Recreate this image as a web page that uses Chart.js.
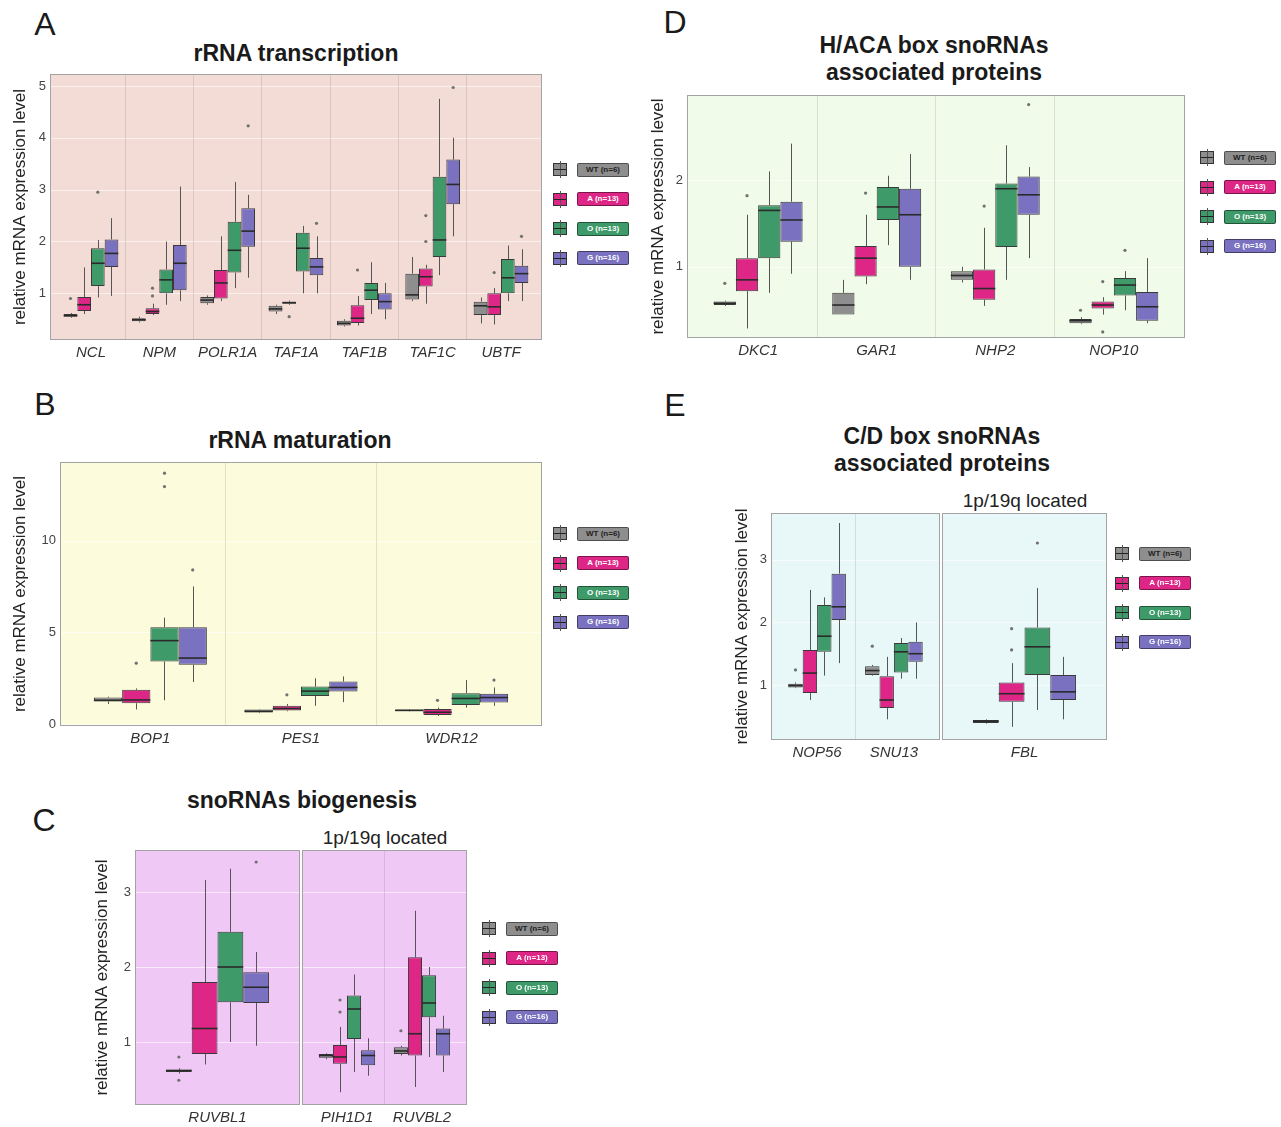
<!DOCTYPE html>
<html>
<head>
<meta charset="utf-8">
<script src="https://cdn.jsdelivr.net/npm/chart.js@4.4.1/dist/chart.umd.min.js"></script>
<style>
body{margin:0;background:#fff;width:1281px;height:1127px;position:relative;overflow:hidden;font-family:'Liberation Sans',Arial,sans-serif}
.t{position:absolute;white-space:nowrap;color:#1a1a1a;transform:translate(-50%,-50%);line-height:1}
.letter{font-size:32px}
.title{font-size:23px;font-weight:bold;text-align:center;line-height:27px}
.strip{font-size:19px;color:#222}
.lg{position:absolute;height:15px;display:flex;align-items:center}
.ic{width:12px;height:11px;border:1px solid #333;position:relative;display:inline-block}
.ic::after{content:'';position:absolute;left:0;right:0;top:5px;height:1px;background:#222}
.ic::before{content:'';position:absolute;left:6px;top:-3px;height:17px;width:1px;background:#555}
.lb{margin-left:10px;width:50px;height:12px;border:1px solid rgba(0,0,0,.45);border-radius:2px;font-size:8px;font-weight:bold;text-align:center;line-height:12px}
</style>
</head>
<body>
<script>
Chart.defaults.font.family = "'Liberation Sans', Arial, sans-serif"

const groups = ['WT (n=6)', 'A (n=13)', 'O (n=13)', 'G (n=16)']
const fills = ['#8e8e8e', '#de2686', '#3f9a6a', '#7a72c0']

// stats per gene: [min, q1, median, q3, max]
const aGenes = ['NCL', 'NPM', 'POLR1A', 'TAF1A', 'TAF1B', 'TAF1C', 'UBTF']
const aWT = [[0.53,0.55,0.57,0.6,0.62],[0.44,0.46,0.49,0.52,0.55],[0.78,0.81,0.87,0.93,0.96],[0.6,0.65,0.7,0.76,0.78],[0.36,0.38,0.42,0.47,0.5],[0.85,0.88,0.97,1.38,1.7],[0.42,0.58,0.76,0.84,0.92]]
const aA = [[0.6,0.66,0.78,0.93,1.5],[0.58,0.6,0.65,0.71,0.8],[0.85,0.9,1.2,1.45,2.1],[0.78,0.8,0.82,0.84,0.86],[0.38,0.43,0.52,0.77,0.95],[0.8,1.13,1.32,1.48,1.55],[0.4,0.58,0.74,1.0,1.1]]
const aO = [[0.92,1.14,1.58,1.87,2.03],[0.78,1.0,1.26,1.46,2.0],[1.1,1.4,1.83,2.38,3.15],[1.0,1.42,1.87,2.17,2.3],[0.6,0.87,1.06,1.2,1.6],[1.35,1.7,2.03,3.25,4.75],[0.85,1.0,1.3,1.66,1.92]]
const aG = [[0.95,1.51,1.77,2.04,2.45],[0.85,1.06,1.58,1.93,3.06],[1.3,1.9,2.2,2.64,2.9],[1.0,1.35,1.51,1.68,2.1],[0.5,0.69,0.84,1.0,1.2],[2.1,2.72,3.1,3.58,4.0],[0.85,1.2,1.38,1.53,1.85]]
const aOutWT = [[0.9],[],[],[],[],[],[]]
const aOutA = [[],[0.95,1.1],[],[0.55],[1.45],[2.0,2.5],[1.4]]
const aOutO = [[2.95],[],[],[],[],[],[]]
const aOutG = [[],[],[4.23],[2.35],[],[4.97],[2.1]]

const bGenes = ['BOP1', 'PES1', 'WDR12']
const bWT = [[1.1,1.23,1.3,1.45,1.5],[0.6,0.64,0.7,0.8,0.82],[0.7,0.72,0.75,0.8,0.82]]
const bA = [[0.8,1.14,1.32,1.87,1.95],[0.7,0.74,0.85,1.0,1.1],[0.45,0.5,0.65,0.82,0.9]]
const bO = [[1.3,3.41,4.55,5.28,5.8],[1.0,1.54,1.8,2.05,2.5],[0.9,1.05,1.4,1.69,2.4]]
const bG = [[2.3,3.23,3.6,5.28,7.5],[1.2,1.78,2.0,2.32,2.6],[1.0,1.18,1.45,1.65,2.0]]
const bOutWT = [[],[],[]]
const bOutA = [[3.32],[1.6],[1.3]]
const bOutO = [[12.94,13.67],[],[]]
const bOutG = [[8.4],[],[2.4]]

const cGenes = ['RUVBL1', 'PIH1D1', 'RUVBL2']
const cWT = [[0.58,0.6,0.62,0.63,0.65],[0.77,0.79,0.82,0.84,0.85],[0.82,0.84,0.88,0.93,0.95]]
const cA = [[0.7,0.84,1.18,1.8,3.16],[0.33,0.71,0.8,0.96,1.2],[0.4,0.82,1.11,2.13,2.75]]
const cO = [[1.0,1.53,2.0,2.47,3.31],[0.6,1.04,1.44,1.62,1.9],[0.8,1.33,1.52,1.89,2.0]]
const cG = [[0.95,1.52,1.73,1.93,2.2],[0.55,0.69,0.82,0.89,1.05],[0.6,0.82,1.11,1.18,1.35]]
const cOutWT = [[0.8,0.49],[],[1.15]]
const cOutA = [[],[1.4,1.56],[]]
const cOutO = [[],[],[]]
const cOutG = [[3.4],[],[]]

const dGenes = ['DKC1', 'GAR1', 'NHP2', 'NOP10']
const dWT = [[0.55,0.56,0.58,0.6,0.61],[0.45,0.45,0.56,0.7,0.85],[0.82,0.85,0.9,0.95,1.0],[0.34,0.35,0.38,0.4,0.42]]
const dA = [[0.29,0.72,0.85,1.1,1.6],[0.8,0.89,1.1,1.24,1.6],[0.55,0.62,0.75,0.97,1.45],[0.45,0.52,0.56,0.6,0.65]]
const dO = [[0.7,1.1,1.65,1.71,2.1],[1.25,1.54,1.69,1.92,2.05],[0.85,1.23,1.9,1.96,2.4],[0.5,0.67,0.79,0.87,0.95]]
const dG = [[0.92,1.29,1.54,1.75,2.42],[0.85,1.0,1.6,1.9,2.3],[1.1,1.6,1.83,2.04,2.15],[0.35,0.38,0.54,0.71,1.1]]
const dOutWT = [[0.81],[],[],[0.5]]
const dOutA = [[1.82],[1.85],[1.7],[0.83,0.25]]
const dOutO = [[],[],[],[1.19]]
const dOutG = [[],[],[2.87],[]]

const eGenes = ['NOP56', 'SNU13', 'FBL']
const eWT = [[0.95,0.96,0.99,1.02,1.04],[1.15,1.16,1.23,1.3,1.32],[0.38,0.39,0.42,0.44,0.45]]
const eA = [[0.76,0.87,1.19,1.56,2.52],[0.45,0.63,0.76,1.14,1.45],[0.33,0.73,0.86,1.04,1.35]]
const eO = [[1.15,1.53,1.78,2.28,2.4],[1.1,1.2,1.53,1.67,1.75],[0.6,1.16,1.61,1.92,2.55]]
const eG = [[1.35,2.04,2.25,2.78,3.59],[1.1,1.37,1.5,1.69,2.0],[0.45,0.76,0.89,1.16,1.45]]
const eOutWT = [[1.24],[1.62],[]]
const eOutA = [[],[],[1.56,1.9]]
const eOutO = [[],[],[3.27]]
const eOutG = [[],[],[]]

// panel background, grid and border (ggplot-like 0.6 expansion of the discrete axis)
const panelPlugin = {
    id: 'panel',
    beforeDraw(chart, args, o) {
        const {ctx, chartArea: a, scales} = chart
        const l = a.left - o.pad, r = a.right + o.pad
        ctx.save()
        ctx.fillStyle = o.bg
        ctx.fillRect(l, a.top, r - l, a.bottom - a.top)
        ctx.strokeStyle = 'rgba(255,255,255,0.6)'
        ctx.lineWidth = 1
        scales.y.ticks.forEach(t => {
            const y = Math.round(scales.y.getPixelForValue(t.value)) + 0.5
            ctx.beginPath(); ctx.moveTo(l, y); ctx.lineTo(r, y); ctx.stroke()
        })
        ctx.restore()
    },
    afterDraw(chart, args, o) {
        const {ctx, chartArea: a} = chart
        ctx.save()
        ctx.strokeStyle = '#a3a3a3'
        ctx.lineWidth = 1
        ctx.strokeRect(Math.round(a.left - o.pad) + 0.5, Math.round(a.top) + 0.5,
            Math.round(a.right - a.left + 2 * o.pad) - 1, Math.round(a.bottom - a.top) - 1)
        ctx.restore()
    }
}

const boxPlugin = {
    id: 'boxes',
    beforeDatasetsDraw(chart) {
        const {ctx, scales: {y}} = chart
        ctx.save()
        ctx.strokeStyle = '#555'
        ctx.lineWidth = 1
        chart.data.datasets.forEach((ds, i) => {
            chart.getDatasetMeta(i).data.forEach((bar, j) => {
                const s = ds.stats[j]
                const x = Math.round(bar.x) + 0.5
                ctx.beginPath()
                ctx.moveTo(x, y.getPixelForValue(s[0])); ctx.lineTo(x, y.getPixelForValue(s[1]))
                ctx.moveTo(x, y.getPixelForValue(s[3])); ctx.lineTo(x, y.getPixelForValue(s[4]))
                ctx.stroke()
            })
        })
        ctx.restore()
    },
    afterDatasetsDraw(chart) {
        const {ctx, scales: {y}} = chart
        ctx.save()
        chart.data.datasets.forEach((ds, i) => {
            chart.getDatasetMeta(i).data.forEach((bar, j) => {
                const s = ds.stats[j]
                const w = bar.width
                ctx.strokeStyle = '#2a2a2a'
                ctx.lineWidth = 1.6
                ctx.beginPath()
                const ym = y.getPixelForValue(s[2])
                ctx.moveTo(bar.x - w / 2, ym); ctx.lineTo(bar.x + w / 2, ym)
                ctx.stroke()
                ctx.fillStyle = '#707070'
                ds.out[j].forEach(v => {
                    ctx.beginPath()
                    ctx.arc(bar.x, y.getPixelForValue(v), 1.6, 0, Math.PI * 2)
                    ctx.fill()
                })
            })
        })
        ctx.restore()
    }
}

function facet(p) {
    const n = p.genes.length
    const unit = (p.x1 - p.x0) / (n + 0.2)
    const pad = unit * 0.1
    const ySpace = p.yAxis ? p.ySpace : 0
    const xh = 34, top = 30
    const cx = p.x0 - ySpace, cy = p.y0 - top
    const cw = Math.ceil(p.x1 + 3 - cx), ch = (p.y1 - cy) + xh
    const cv = document.createElement('canvas')
    cv.width = cw; cv.height = ch
    cv.style.cssText = `position:absolute;left:${cx}px;top:${cy}px;width:${cw}px;height:${ch}px`
    document.body.appendChild(cv)

    const series = [p.wt, p.a, p.o, p.g].map(s => p.idx.map(i => s[i]))
    const outs = [p.outWt, p.outA, p.outO, p.outG].map(s => p.idx.map(i => s[i]))

    new Chart(cv, {
        type: 'bar',
        data: {
            labels: p.genes,
            datasets: groups.map((g, k) => ({
                label: g,
                data: series[k].map(s => [s[1], s[3]]),
                stats: series[k],
                out: outs[k],
                backgroundColor: fills[k],
                borderColor: '#3a3a3a',
                borderWidth: 1,
                borderSkipped: false,
                categoryPercentage: p.width,
                barPercentage: 1
            }))
        },
        options: {
            responsive: false,
            animation: false,
            devicePixelRatio: 1,
            layout: {padding: {left: p.yAxis ? 0 : pad, right: cw - (p.x1 - pad - cx), top: top, bottom: 0}},
            plugins: {
                legend: {display: false},
                tooltip: {enabled: false},
                panel: {bg: p.bg, pad: pad}
            },
            scales: {
                x: {
                    grid: {
                        offset: true,
                        drawTicks: false,
                        color: ctx => (ctx.type !== 'tick' || ctx.index === 0) ? 'rgba(0,0,0,0)' : 'rgba(90,90,90,0.16)'
                    },
                    border: {display: false},
                    ticks: {font: {size: 15, style: 'italic'}, color: '#333', padding: 4, maxRotation: 0, autoSkip: false},
                    afterFit: s => { s.height = xh }
                },
                y: {
                    min: p.min,
                    max: p.max,
                    grid: {display: false, drawTicks: false},
                    border: {display: false},
                    ticks: {display: p.yAxis, stepSize: p.step, includeBounds: false, color: '#444', font: {size: 13}, padding: 4 + pad},
                    title: {display: p.yAxis, text: 'relative mRNA expression level', color: '#222', font: {size: 17}, padding: {top: p.titlePad, bottom: 0}},
                    afterFit: s => { s.width = p.yAxis ? ySpace + pad : 0 }
                }
            }
        },
        plugins: [panelPlugin, boxPlugin]
    })
}

function text(str, x, y, cls) {
    const d = document.createElement('div')
    d.className = 't ' + cls
    d.style.left = x + 'px'; d.style.top = y + 'px'
    d.innerHTML = str
    document.body.appendChild(d)
}

function legend(x, y) {
    groups.forEach((g, k) => {
        const row = document.createElement('div')
        row.className = 'lg'
        row.style.left = x + 'px'
        row.style.top = (y - 7 + k * 29.5) + 'px'
        row.innerHTML = `<span class="ic" style="background:${fills[k]}"></span>` +
            `<span class="lb" style="background:${fills[k]};color:${k ? '#fff' : '#222'}">${g}</span>`
        document.body.appendChild(row)
    })
}

// A
text('A', 45, 24, 'letter')
text('rRNA transcription', 296, 53, 'title')
facet({genes: aGenes, idx: [0,1,2,3,4,5,6], wt: aWT, a: aA, o: aO, g: aG, outWt: aOutWT, outA: aOutA, outO: aOutO, outG: aOutG,
    x0: 50, x1: 542, y0: 74, y1: 340, min: 0.1, max: 5.23, step: 1, yAxis: true, ySpace: 50, titlePad: 10, width: 0.8, bg: '#f3dcd6'})
legend(553, 169)

// B
text('B', 45, 404, 'letter')
text('rRNA maturation', 300, 440, 'title')
facet({genes: bGenes, idx: [0,1,2], wt: bWT, a: bA, o: bO, g: bG, outWt: bOutWT, outA: bOutA, outO: bOutO, outG: bOutG,
    x0: 60, x1: 542, y0: 462, y1: 726, min: -0.1, max: 14.28, step: 5, yAxis: true, ySpace: 60, titlePad: 10, width: 0.75, bg: '#fcfcdc'})
legend(553, 533)

// C
text('C', 44, 820, 'letter')
text('snoRNAs biogenesis', 302, 800, 'title')
text('1p/19q located', 385, 837, 'strip')
facet({genes: [cGenes[0]], idx: [0], wt: cWT, a: cA, o: cO, g: cG, outWt: cOutWT, outA: cOutA, outO: cOutO, outG: cOutG,
    x0: 135, x1: 300, y0: 850, y1: 1105, min: 0.16, max: 3.56, step: 1, yAxis: true, ySpace: 45, titlePad: 2, width: 0.75, bg: '#f0c8f6'})
facet({genes: cGenes.slice(1), idx: [1,2], wt: cWT, a: cA, o: cO, g: cG, outWt: cOutWT, outA: cOutA, outO: cOutO, outG: cOutG,
    x0: 302, x1: 467, y0: 850, y1: 1105, min: 0.16, max: 3.56, step: 1, yAxis: false, width: 0.75, bg: '#f0c8f6'})
legend(482, 928)

// D
text('D', 675, 22, 'letter')
text('H/ACA box snoRNAs<br>associated proteins', 934, 59, 'title')
facet({genes: dGenes, idx: [0,1,2,3], wt: dWT, a: dA, o: dO, g: dG, outWt: dOutWT, outA: dOutA, outO: dOutO, outG: dOutG,
    x0: 687, x1: 1185, y0: 95, y1: 338, min: 0.18, max: 2.98, step: 1, yAxis: true, ySpace: 45, titlePad: 6, width: 0.75, bg: '#f1fbe9'})
legend(1200, 157)

// E
text('E', 675, 405, 'letter')
text('C/D box snoRNAs<br>associated proteins', 942, 450, 'title')
text('1p/19q located', 1025, 500, 'strip')
facet({genes: eGenes.slice(0, 2), idx: [0,1], wt: eWT, a: eA, o: eO, g: eG, outWt: eOutWT, outA: eOutA, outO: eOutO, outG: eOutG,
    x0: 771, x1: 940, y0: 513, y1: 740, min: 0.12, max: 3.75, step: 1, yAxis: true, ySpace: 45, titlePad: 6, width: 0.75, bg: '#e8f7f7'})
facet({genes: [eGenes[2]], idx: [2], wt: eWT, a: eA, o: eO, g: eG, outWt: eOutWT, outA: eOutA, outO: eOutO, outG: eOutG,
    x0: 942, x1: 1107, y0: 513, y1: 740, min: 0.12, max: 3.75, step: 1, yAxis: false, width: 0.75, bg: '#e8f7f7'})
legend(1115, 553)
</script>
</body>
</html>
